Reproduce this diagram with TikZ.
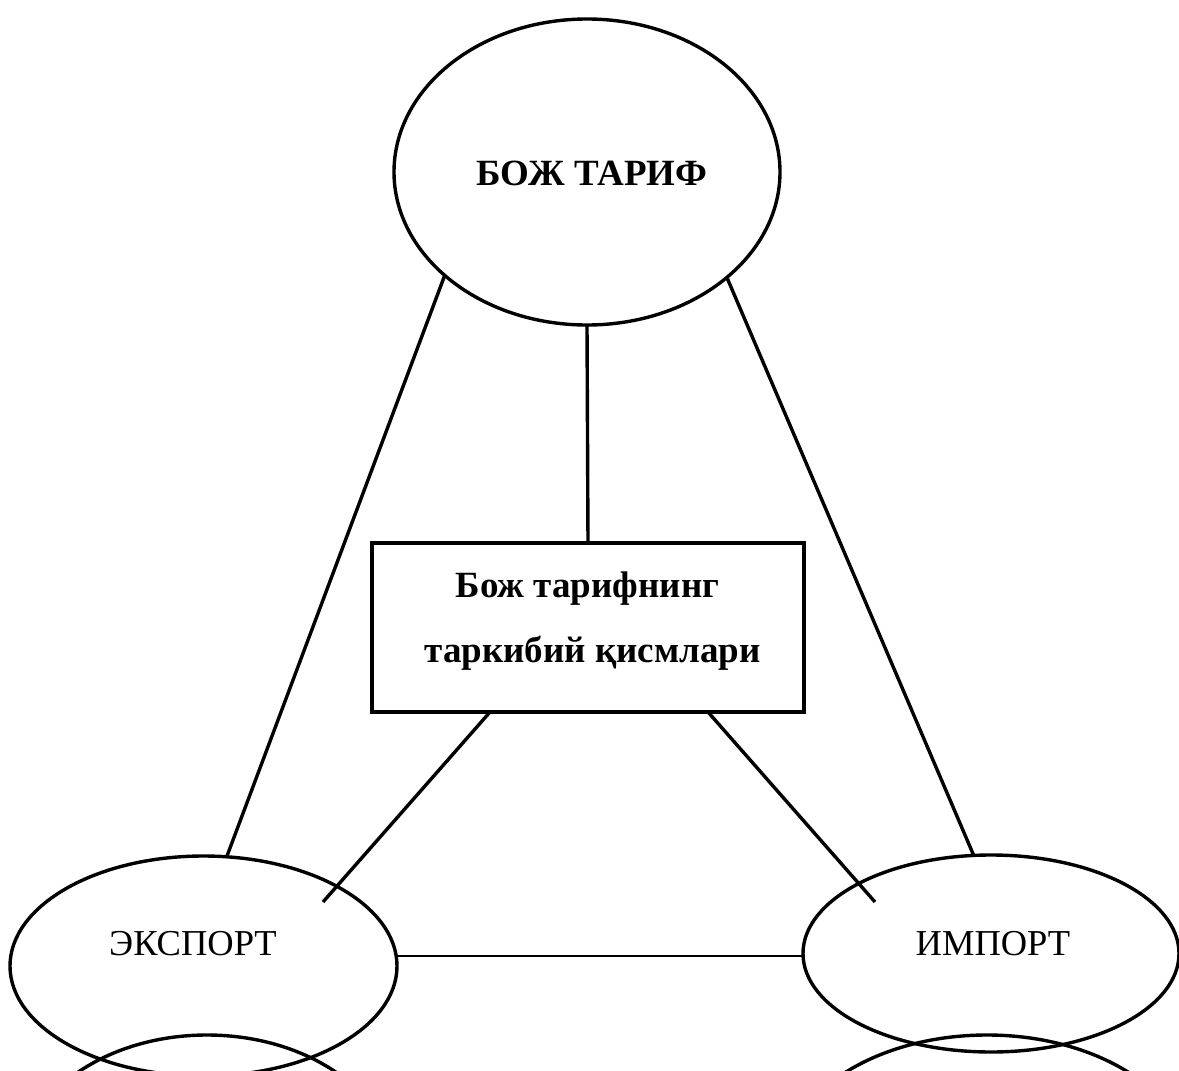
\documentclass[tikz,border=0pt]{standalone}
\usepackage{fontspec}
\setmainfont{Liberation Serif}
\usetikzlibrary{shapes.geometric}
\tikzset{
  shp/.style={draw=black, line width=3.4pt, inner sep=0pt, outer sep=0pt},
  oval/.style={shp, ellipse},
  rectbox/.style={shp, rectangle},
  conn/.style={draw=black, line width=3.4pt},
  thinconn/.style={draw=black, line width=1.8pt},
  boldtxt/.style={font=\fontsize{37}{65}\selectfont\bfseries, inner sep=0pt, anchor=base},
  regtxt/.style={font=\fontsize{36.5}{44}\selectfont, inner sep=0pt, anchor=base}
}
\begin{document}
\begin{tikzpicture}[x=1pt,y=-1pt]
\useasboundingbox (0,0) rectangle (1179,1071);
\clip (0,0) rectangle (1179,1071);
\fill[white] (0,0) rectangle (1179,1071);
% shapes
\node[oval, minimum width=386pt, minimum height=306pt] (top) at (587,172) {};
\node[rectbox, minimum width=432pt, minimum height=169pt] (box) at (588,627.5) {};
\node[oval, minimum width=387pt, minimum height=220pt] (exp) at (203.5,966) {};
\node[oval, minimum width=376pt, minimum height=197pt] (imp) at (991,953.5) {};
\node[oval, minimum width=380pt, minimum height=280pt] (exp2) at (207,1175) {};
\node[oval, minimum width=410pt, minimum height=270pt] (imp2) at (987,1170) {};
% texts
\node[boldtxt] (toptxt) at (592,185) {БОЖ ТАРИФ};
\node[boldtxt] (boxtxta) at (587.5,597) {Бож тарифнинг};
\node[boldtxt] (boxtxtb) at (592.5,662) {таркибий қисмлари};
\node[regtxt] (exptxt) at (193,955) {ЭКСПОРТ};
\node[regtxt] (imptxt) at (993,955) {ИМПОРТ};
% free ends
\coordinate (bl) at (323,902);
\coordinate (br) at (875,902);
% connectors
\draw[conn] (top.south) -- (box.north);
\draw[conn] (top.216.4) -- (exp.78);
\draw[conn] (top.323.6) -- (imp.100.8);
\draw[conn] ([xshift=-98pt]box.south) -- (bl);
\draw[conn] ([xshift=120pt]box.south) -- (br);
\draw[thinconn] (exp.3) -- (exp.3 -| imp.west);
\end{tikzpicture}
\end{document}
